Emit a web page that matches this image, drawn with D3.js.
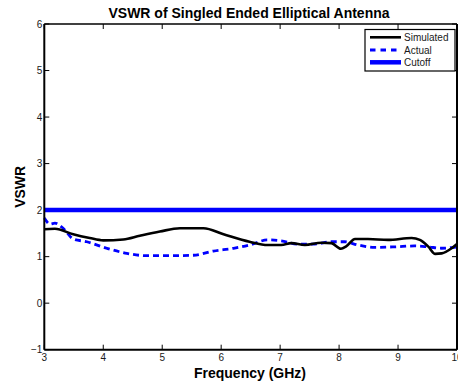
<!DOCTYPE html>
<html>
<head>
<meta charset="utf-8">
<script src="https://cdn.jsdelivr.net/npm/d3@7"></script>
<style>
  html, body { margin: 0; padding: 0; background: #fff; }
  svg { display: block; font-family: "Liberation Sans", Arial, Helvetica, sans-serif; }
</style>
</head>
<body>
<svg id="chart" width="458" height="384"></svg>
<script>
// Frequency samples (GHz) and VSWR values for each trace
const simFreq = [3.0, 3.18, 3.49, 3.77, 4.0, 4.34, 4.62, 4.96, 5.30, 5.70, 6.04, 6.48, 6.79, 7.02, 7.19, 7.42, 7.70, 7.87, 8.03, 8.12, 8.27, 8.49, 8.83, 9.23, 9.37, 9.51, 9.63, 9.74, 9.91, 10.0];
const simVswr = [1.59, 1.60, 1.48, 1.40, 1.35, 1.37, 1.45, 1.54, 1.61, 1.61, 1.48, 1.32, 1.25, 1.25, 1.29, 1.25, 1.30, 1.29, 1.17, 1.22, 1.38, 1.38, 1.36, 1.40, 1.36, 1.22, 1.06, 1.07, 1.18, 1.27];

const actFreq = [3.0, 3.1, 3.18, 3.32, 3.49, 3.72, 4.06, 4.40, 4.74, 5.19, 5.53, 5.87, 6.21, 6.48, 6.79, 7.02, 7.30, 7.58, 7.87, 8.09, 8.32, 8.60, 8.94, 9.28, 9.51, 9.74, 10.0];
const actVswr = [1.83, 1.70, 1.72, 1.61, 1.38, 1.32, 1.18, 1.07, 1.02, 1.02, 1.03, 1.12, 1.18, 1.25, 1.36, 1.34, 1.27, 1.27, 1.32, 1.32, 1.25, 1.20, 1.21, 1.23, 1.21, 1.18, 1.21];

const cutoffFreq = [3, 10];
const cutoffVswr = [2, 2];

const xTicks = [3, 4, 5, 6, 7, 8, 9, 10];
const yTicks = [-1, 0, 1, 2, 3, 4, 5, 6];

const legendLabels = ["Simulated", "Actual", "Cutoff"];

const svg = d3.select("#chart");
const plotL = 44.3, plotR = 457, plotT = 24, plotB = 349.7;

const x = d3.scaleLinear().domain([3, 10]).range([plotL, plotR]);
const y = d3.scaleLinear().domain([-1, 6]).range([plotB, plotT]);

const tickFont = "10px";
const textColor = "#1a1a1a";

// Inward ticks on all four sides
const g = svg.append("g");
xTicks.forEach(t => {
  g.append("line").attr("x1", x(t)).attr("x2", x(t)).attr("y1", plotB).attr("y2", plotB - 5)
    .attr("stroke", "#000").attr("stroke-width", 1);
  g.append("line").attr("x1", x(t)).attr("x2", x(t)).attr("y1", plotT).attr("y2", plotT + 5)
    .attr("stroke", "#000").attr("stroke-width", 1);
  g.append("text").attr("x", x(t)).attr("y", plotB + 11.5)
    .attr("text-anchor", "middle").attr("font-size", tickFont).attr("fill", textColor)
    .text(t);
});
yTicks.forEach(t => {
  g.append("line").attr("x1", plotL).attr("x2", plotL + 5).attr("y1", y(t)).attr("y2", y(t))
    .attr("stroke", "#000").attr("stroke-width", 1);
  g.append("line").attr("x1", plotR).attr("x2", plotR - 5).attr("y1", y(t)).attr("y2", y(t))
    .attr("stroke", "#000").attr("stroke-width", 1);
  g.append("text").attr("x", plotL - 2).attr("y", y(t)).attr("dy", "0.35em")
    .attr("text-anchor", "end").attr("font-size", tickFont).attr("fill", textColor)
    .text(t < 0 ? "\u2212" + Math.abs(t) : t);
});

// Traces
const line = d3.line().x(d => x(d[0])).y(d => y(d[1])).curve(d3.curveMonotoneX);
const zip = (a, b) => a.map((v, i) => [v, b[i]]);

svg.append("path").datum(zip(cutoffFreq, cutoffVswr)).attr("d", line)
  .attr("fill", "none").attr("stroke", "#0000ff").attr("stroke-width", 4.5);
svg.append("path").datum(zip(actFreq, actVswr)).attr("d", line)
  .attr("fill", "none").attr("stroke", "#0000ff").attr("stroke-width", 2.8)
  .attr("stroke-dasharray", "6,4");
svg.append("path").datum(zip(simFreq, simVswr)).attr("d", line)
  .attr("fill", "none").attr("stroke", "#000").attr("stroke-width", 2.6);

// Axes frame
svg.append("line").attr("x1", plotL).attr("x2", plotL).attr("y1", plotT).attr("y2", plotB)
  .attr("stroke", "#000").attr("stroke-width", 2);
svg.append("line").attr("x1", plotL).attr("x2", plotR).attr("y1", plotB).attr("y2", plotB)
  .attr("stroke", "#000").attr("stroke-width", 2);
svg.append("line").attr("x1", plotL).attr("x2", plotR).attr("y1", plotT).attr("y2", plotT)
  .attr("stroke", "#000").attr("stroke-width", 1.3);
svg.append("line").attr("x1", plotR).attr("x2", plotR).attr("y1", plotT).attr("y2", plotB)
  .attr("stroke", "#000").attr("stroke-width", 2);

// Title and axis labels
svg.append("text").attr("x", 249).attr("y", 18).attr("text-anchor", "middle")
  .attr("font-size", "14px").attr("font-weight", "bold").attr("fill", "#000")
  .text("VSWR of Singled Ended Elliptical Antenna");
svg.append("text").attr("x", 250).attr("y", 378).attr("text-anchor", "middle")
  .attr("font-size", "14px").attr("font-weight", "bold").attr("fill", "#000")
  .text("Frequency (GHz)");
svg.append("text").attr("transform", `translate(25,${(plotT + plotB) / 2}) rotate(-90)`)
  .attr("text-anchor", "middle")
  .attr("font-size", "14px").attr("font-weight", "bold").attr("fill", "#000")
  .text("VSWR");

// Legend
const lg = svg.append("g");
lg.append("rect").attr("x", 365).attr("y", 29.5).attr("width", 90).attr("height", 41.5)
  .attr("fill", "#fff").attr("stroke", "#000").attr("stroke-width", 1.2);
const legendStyles = [
  { color: "#000", width: 2.6, dash: null },
  { color: "#0000ff", width: 2.8, dash: "5.5,5" },
  { color: "#0000ff", width: 4.5, dash: null }
];
const rowY = [37.3, 50, 62.3];
legendLabels.forEach((lab, i) => {
  const s = legendStyles[i];
  const l = lg.append("line").attr("x1", 370).attr("x2", 401).attr("y1", rowY[i]).attr("y2", rowY[i])
    .attr("stroke", s.color).attr("stroke-width", s.width);
  if (s.dash) l.attr("stroke-dasharray", s.dash);
  lg.append("text").attr("x", 404).attr("y", rowY[i]).attr("dy", "0.35em")
    .attr("font-size", "10px").attr("fill", textColor).text(lab);
});
</script>
</body>
</html>
